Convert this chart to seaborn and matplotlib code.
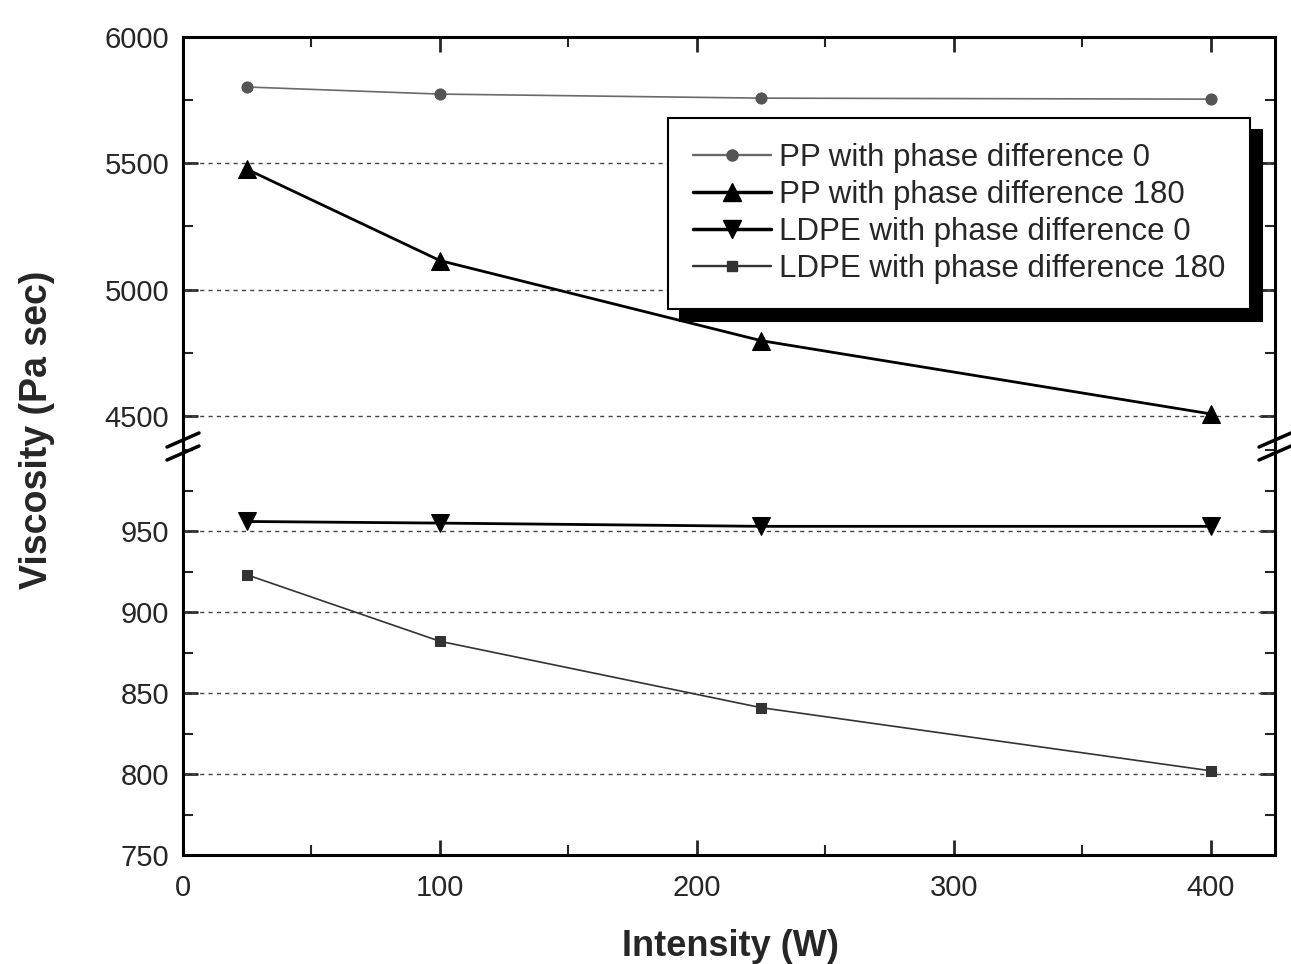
import matplotlib
matplotlib.use("Agg")
import matplotlib.pyplot as plt
from matplotlib.lines import Line2D
from matplotlib.ticker import MultipleLocator
import pandas as pd
import seaborn as sns

# values
intensity = [25, 100, 225, 400]
pp_phase0 = [5802, 5774, 5758, 5754]
pp_phase180 = [5476, 5115, 4798, 4508]
ldpe_phase0 = [956, 955, 953, 953]
ldpe_phase180 = [923, 882, 841, 802]

labels = [
    "PP with phase difference 0",
    "PP with phase difference 180",
    "LDPE with phase difference 0",
    "LDPE with phase difference 180",
]

sns.set_theme(style="ticks")
plt.rcParams["font.family"] = ["Liberation Sans", "DejaVu Sans"]

W, H = 1291, 964
fig = plt.figure(figsize=(W / 100, H / 100), dpi=100)


def fig_box(x0, y0, x1, y1):
    """pixel box (top-left origin) -> figure fraction rect"""
    return [x0 / W, 1 - y1 / H, (x1 - x0) / W, (y1 - y0) / H]


ax_top = fig.add_axes(fig_box(183, 37, 1275, 446))
ax_bot = fig.add_axes(fig_box(183, 447, 1275, 855))

pp_df = pd.DataFrame(
    {
        "intensity": intensity * 2,
        "viscosity": pp_phase0 + pp_phase180,
        "series": [labels[0]] * 4 + [labels[1]] * 4,
    }
)
ldpe_df = pd.DataFrame(
    {
        "intensity": intensity * 2,
        "viscosity": ldpe_phase0 + ldpe_phase180,
        "series": [labels[2]] * 4 + [labels[3]] * 4,
    }
)

styles = {
    labels[0]: dict(color="#6a6a6a", marker="o", ms=8, lw=1.2, mfc="#555555"),
    labels[1]: dict(color="black", marker="^", ms=13, lw=2.0, mfc="black"),
    labels[2]: dict(color="black", marker="v", ms=13, lw=2.0, mfc="black"),
    labels[3]: dict(color="#333333", marker="s", ms=7, lw=1.2, mfc="#333333"),
}

for ax, df in ((ax_top, pp_df), (ax_bot, ldpe_df)):
    for name, sub in df.groupby("series", sort=False):
        st = styles[name]
        sns.lineplot(
            data=sub,
            x="intensity",
            y="viscosity",
            ax=ax,
            color=st["color"],
            marker=st["marker"],
            markersize=st["ms"],
            linewidth=st["lw"],
            markerfacecolor=st["mfc"],
            markeredgecolor=st["mfc"],
            zorder=3,
        )
    ax.set_xlim(0, 425)
    ax.set_xlabel("")
    ax.set_ylabel("")
    ax.xaxis.set_major_locator(MultipleLocator(100))
    ax.xaxis.set_minor_locator(MultipleLocator(50))
    ax.tick_params(which="major", direction="in", length=11, width=2,
                   labelsize=21, right=True, top=True, pad=10)
    ax.tick_params(which="minor", direction="in", length=7, width=1.5,
                   right=True, top=True)
    for sp in ax.spines.values():
        sp.set_linewidth(2.2)
        sp.set_color("black")

ax_top.set_ylim(4381, 6000)
ax_top.yaxis.set_major_locator(MultipleLocator(500))
ax_top.yaxis.set_minor_locator(MultipleLocator(250))
ax_top.spines["bottom"].set_visible(False)
ax_top.tick_params(which="both", bottom=False, labelbottom=False)
for v in (4500, 5000, 5500):
    ax_top.axhline(v, color="#444444", lw=1, ls=(0, (3, 3)), zorder=1)

ax_bot.set_ylim(750, 1002)
ax_bot.yaxis.set_major_locator(MultipleLocator(50))
ax_bot.yaxis.set_minor_locator(MultipleLocator(25))
ax_bot.set_yticks([750, 800, 850, 900, 950])
ax_bot.spines["top"].set_visible(False)
ax_bot.tick_params(which="both", top=False)
ax_bot.tick_params(axis="x", which="major", pad=14)
for v in (800, 850, 900, 950):
    ax_bot.axhline(v, color="#444444", lw=1, ls=(0, (3, 3)), zorder=1)

# break marks on both spines
for px in (183, 1275):
    for py in (440, 453):
        fig.add_artist(Line2D([(px - 16) / W, (px + 16) / W],
                              [1 - (py + 7) / H, 1 - (py - 7) / H],
                              color="black", lw=2.5))

handles = [
    Line2D([], [], color=styles[n]["color"], marker=styles[n]["marker"],
           markersize=styles[n]["ms"], lw=styles[n]["lw"] + 0.5,
           markerfacecolor=styles[n]["mfc"], markeredgecolor=styles[n]["mfc"])
    for n in labels
]
leg = ax_top.legend(
    handles, labels, loc="upper right", bbox_to_anchor=(0.977, 0.802),
    borderaxespad=0, fontsize=22.5, frameon=True, fancybox=False,
    edgecolor="black", handlelength=2.5, handletextpad=0.25,
    labelspacing=0.22, borderpad=0.8,
    shadow={"ox": 9, "oy": -9, "color": "black", "alpha": 1},
)
leg.get_frame().set_linewidth(1.5)

fig.text(37 / W, 1 - 430 / H, "Viscosity (Pa sec)", rotation=90, ha="center",
         va="center", fontsize=27, fontweight="bold")
fig.text(730 / W, 1 - 946 / H, "Intensity (W)", ha="center", va="center",
         fontsize=26, fontweight="bold")

fig.savefig("out.png", dpi=100)
